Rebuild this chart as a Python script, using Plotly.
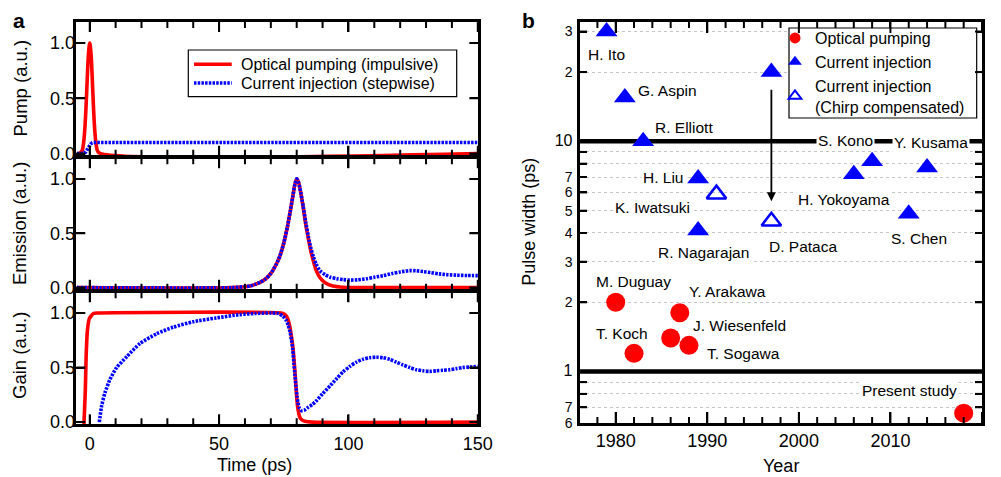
import math
import plotly.graph_objects as go

W, H = 1001, 477
FONT = "Liberation Sans, Arial, Helvetica, sans-serif"
RED = "#ff0000"
BLUE = "#0000ff"

# ---------------- Panel a data (time in ps, signals in a.u.) ----------------
pump_opt_t = [-5, -4, -3, -2.5, -2, -1.5, -1, -0.5, 0, 0.5, 1, 1.5, 2, 2.5, 3, 4, 150]
pump_opt_v = [0, 0.001, 0.024, 0.076, 0.19, 0.39, 0.66, 0.9, 1.0, 0.9, 0.66, 0.39, 0.19, 0.076, 0.024, 0.001, 0]

pump_cur_t = [-5, -2.5, -1.5, -0.9, -0.3, 0.3, 0.9, 1.4, 150]
pump_cur_v = [0, 0, 0.015, 0.04, 0.065, 0.085, 0.096, 0.1, 0.1]

emis_opt_t = [-5, 55, 62, 64, 66, 68, 70, 72, 73.5, 75, 76.5, 77.5, 78.5, 79.3, 80, 80.7, 81.2,
              82.5, 83.5, 84.5, 85.5, 86.5, 87.5, 89, 91, 94, 98, 101, 150]
emis_opt_v = [0, 0, 0.015, 0.03, 0.05, 0.08, 0.13, 0.21, 0.29, 0.41, 0.57, 0.70, 0.84, 0.95, 1.0, 0.97, 0.92,
              0.74, 0.58, 0.45, 0.33, 0.24, 0.16, 0.09, 0.045, 0.015, 0.003, 0, 0]

emis_cur_t = [-5, 55, 62, 64, 66, 68, 70, 72, 73.5, 75, 76.5, 77.5, 78.5, 79.3, 80, 80.7, 81.2,
              82.5, 83.5, 84.5, 85.5, 86.5, 87.5, 89, 91, 93, 95.5, 98, 100.5, 103.5, 107, 110,
              113.5, 117, 120, 123.7, 126, 129, 132, 135, 138.5, 142, 146, 150]
emis_cur_v = [0, 0, 0.015, 0.03, 0.05, 0.08, 0.13, 0.21, 0.29, 0.41, 0.57, 0.70, 0.84, 0.95, 1.0, 0.97, 0.92,
              0.75, 0.60, 0.47, 0.36, 0.28, 0.215, 0.155, 0.118, 0.095, 0.081, 0.073, 0.069, 0.071, 0.081, 0.095,
              0.11, 0.13, 0.144, 0.156, 0.155, 0.147, 0.137, 0.126, 0.118, 0.114, 0.111, 0.11]

gain_opt_t = [-2.3, -2.0, -1.7, -1.4, -0.9, -0.15, 1.4, 3, 74, 75.5, 76.5, 77.3, 78, 78.6, 79.2, 79.7,
              80.3, 81.2, 82, 83.1, 86, 150]
gain_opt_v = [-0.05, 0.12, 0.30, 0.60, 0.84, 0.95, 0.995, 1.0, 1.0, 0.985, 0.95, 0.88, 0.78, 0.67, 0.50, 0.33,
              0.15, 0.045, 0.02, 0.009, 0.0, 0.0]

gain_cur_t = [3.7, 4.6, 5.9, 7.8, 10.4, 14.3, 19.4, 25.9, 32.3, 40, 49, 58, 64, 70, 73, 74.7, 76, 76.7,
              77.5, 78, 78.5, 78.9, 79.3, 79.7, 80.1, 80.5, 81, 81.8, 83, 84.4, 86, 87.6, 90, 92.8, 95.5,
              97.9, 100.5, 103.1, 105.5, 108.2, 110.8, 113.4, 116, 118.5, 121, 123.7, 126.3, 128.8, 131.4,
              134, 136.5, 139.1, 141.7, 144.2, 147, 150]
gain_cur_v = [0, 0.15, 0.27, 0.39, 0.50, 0.60, 0.72, 0.81, 0.87, 0.92, 0.955, 0.985, 0.995, 1.0, 0.995, 0.97,
              0.93, 0.89, 0.82, 0.75, 0.66, 0.54, 0.44, 0.33, 0.24, 0.18, 0.13, 0.105, 0.11, 0.135, 0.16, 0.195,
              0.26, 0.33, 0.40, 0.46, 0.51, 0.55, 0.575, 0.59, 0.595, 0.59, 0.575, 0.55, 0.525, 0.50, 0.48,
              0.47, 0.465, 0.47, 0.475, 0.48, 0.49, 0.50, 0.505, 0.51]

legend_a_names = ["Optical pumping (impulsive)", "Current injection (stepwise)"]
time_range = [-5.2, 150.2]
time_major = [0, 50, 100, 150]
time_minor = [10, 20, 30, 40, 60, 70, 80, 90, 110, 120, 130, 140]
signal_ticks = [0, 0.5, 1.0]
signal_labels = ["0.0", "0.5", "1.0"]

# ---------------- Panel b data (year, pulse width in ps) ----------------
opt_year = [1980, 1982, 1986, 1987, 1988, 2018]
opt_width = [2.0, 1.2, 1.4, 1.8, 1.3, 0.66]
opt_names = ["M. Duguay", "T. Koch", "J. Wiesenfeld", "Y. Arakawa", "T. Sogawa", "Present study"]

cur_year = [1979, 1981, 1983, 1989, 1989, 1997, 2006, 2008, 2012, 2014]
cur_width = [30, 15.5, 10, 6.9, 4.1, 20, 7.2, 8.2, 4.85, 7.7]
cur_names = ["H. Ito", "G. Aspin", "R. Elliott", "H. Liu", "R. Nagarajan", "", "H. Yokoyama",
             "S. Kono", "S. Chen", "Y. Kusama"]

cc_year = [1991, 1997]
cc_width = [5.9, 4.5]
cc_names = ["K. Iwatsuki", "D. Pataca"]

# chirp compensation arrow (from uncompensated to compensated value)
arrow_year = 1997
arrow_from = 17
arrow_to = 5.5

year_range = [1976.1, 2020]
year_major = [1980, 1990, 2000, 2010, 2020]
year_minor = [1978, 1982, 1984, 1986, 1988, 1992, 1994, 1996, 1998, 2002, 2004, 2006, 2008,
              2012, 2014, 2016, 2018]
width_range = [0.598, 33]
y_tickvals = [0.6, 0.7, 0.8, 0.9, 1, 2, 3, 4, 5, 6, 7, 8, 9, 10, 20, 30]
y_ticktext = ["6", "7", "", "", "<span style='font-size:16px'>1</span>", "2", "3", "4", "5", "6", "7",
              "", "", "<span style='font-size:16px'>10</span>", "2", "3"]
decade_lines = [1, 10]

# label offsets in pixels (dx right, dy down) -- layout only
opt_off = [(18, -21), (-12, -20), (69, -12), (48, -21), (55, 8), (-54, -23)]
cur_off = [(0, 23), (43, -7), (41, -14), (-35, -1), (5, 22), (0, 0), (-10, 25), (-27, -21), (10, 25), (4, -25)]
cc_off = [(-64, 13), (32, 25)]


def px(x):
    return x / W


def py(y):
    return 1 - y / H


fig = go.Figure()

RED_W = 3.6
BLUE_DASH = "2.5px,1.2px"
solid = dict(color=RED, width=RED_W)
dotted = dict(color=BLUE, width=RED_W, dash=BLUE_DASH)

# Panel a traces
fig.add_trace(go.Scatter(x=pump_opt_t, y=pump_opt_v, mode="lines", line=solid, line_shape="spline",
                         showlegend=False, xaxis="x", yaxis="y"))
fig.add_trace(go.Scatter(x=pump_cur_t, y=pump_cur_v, mode="lines", line=dotted,
                         showlegend=False, xaxis="x", yaxis="y"))
fig.add_trace(go.Scatter(x=emis_opt_t, y=emis_opt_v, mode="lines", line=solid, line_shape="spline",
                         line_smoothing=0.6, showlegend=False, xaxis="x2", yaxis="y2"))
fig.add_trace(go.Scatter(x=emis_cur_t, y=emis_cur_v, mode="lines", line=dotted, line_shape="spline",
                         line_smoothing=0.6, showlegend=False, xaxis="x2", yaxis="y2"))
fig.add_trace(go.Scatter(x=gain_opt_t, y=gain_opt_v, mode="lines", line=solid, line_shape="spline",
                         line_smoothing=0.5, showlegend=False, xaxis="x3", yaxis="y3"))
fig.add_trace(go.Scatter(x=gain_cur_t, y=gain_cur_v, mode="lines", line=dotted, line_shape="spline",
                         line_smoothing=0.6, showlegend=False, xaxis="x3", yaxis="y3"))

# Panel b: decade separator lines (drawn above grid, below markers)
for v in decade_lines:
    fig.add_trace(go.Scatter(x=year_range, y=[v, v], mode="lines", line=dict(color="black", width=4.5),
                             showlegend=False, hoverinfo="skip", xaxis="x4", yaxis="y4"))

fig.add_trace(go.Scatter(x=opt_year, y=opt_width, mode="markers", showlegend=False,
                         marker=dict(symbol="circle", size=19, color=RED), xaxis="x4", yaxis="y4"))
fig.add_trace(go.Scatter(x=cur_year, y=cur_width, mode="markers", showlegend=False,
                         marker=dict(symbol="triangle-up", size=19, color=BLUE), xaxis="x4", yaxis="y4"))
fig.add_trace(go.Scatter(x=cc_year, y=cc_width, mode="markers", showlegend=False,
                         marker=dict(symbol="triangle-up-open", size=17, color=BLUE, line=dict(width=2.5)),
                         xaxis="x4", yaxis="y4"))
# legend-only entries for panel b
fig.add_trace(go.Scatter(x=[None], y=[None], mode="markers", name="Optical pumping",
                         marker=dict(symbol="circle", size=11, color=RED), xaxis="x4", yaxis="y4"))
fig.add_trace(go.Scatter(x=[None], y=[None], mode="markers", name="Current injection",
                         marker=dict(symbol="triangle-up", size=12, color=BLUE), xaxis="x4", yaxis="y4"))
fig.add_trace(go.Scatter(x=[None], y=[None], mode="markers", name="Current injection<br>(Chirp compensated)",
                         marker=dict(symbol="triangle-up-open", size=11, color=BLUE, line=dict(width=2)),
                         xaxis="x4", yaxis="y4"))

# ---------------- axes ----------------
LW = 2.5
xdom_a = [px(76.3), px(478.3)]
common_x = dict(range=time_range, domain=xdom_a, showline=True, linewidth=LW, linecolor="black",
                mirror="ticks", ticks="inside", tickvals=time_major, ticklen=10,
                tickwidth=2, tickcolor="black", showgrid=False, zeroline=False, automargin=False,
                tickfont=dict(size=18, color="black"), ticklabelstandoff=1)
common_y = dict(range=[-0.02, 1.19], showline=True, linewidth=LW, linecolor="black", mirror="ticks",
                ticks="inside", tickvals=signal_ticks, ticktext=signal_labels, ticklen=9,
                tickwidth=2, tickcolor="black", showgrid=False, zeroline=False, automargin=False,
                tickfont=dict(size=18, color="black"), ticklabelstandoff=-5)

# boundaries between stacked panels at 157 and 291 px; half line-width gaps so lines coincide
hb = LW / 2
panel_px = {  # subplot id: (top px, bottom px)
    "": (22, 157 - hb),
    "2": (157 + hb, 291 - hb),
    "3": (291 + hb, 424.3),
}
fig.update_layout(
    template="none",
    xaxis=dict(common_x, anchor="y", showticklabels=False),
    xaxis2=dict(common_x, anchor="y2", showticklabels=False),
    xaxis3=dict(common_x, anchor="y3", showticklabels=True),
    yaxis=dict(common_y, anchor="x", domain=[py(panel_px[""][1]), py(panel_px[""][0])]),
    yaxis2=dict(common_y, anchor="x2", domain=[py(panel_px["2"][1]), py(panel_px["2"][0])]),
    yaxis3=dict(common_y, anchor="x3", domain=[py(panel_px["3"][1]), py(panel_px["3"][0])]),
    xaxis4=dict(anchor="y4", domain=[px(580), px(982)], range=year_range, showline=True, linewidth=LW,
                linecolor="black", mirror="ticks", ticks="inside", tickvals=year_major,
                ticklen=11, tickwidth=2, tickcolor="black", showgrid=False, zeroline=False, automargin=False,
                tickfont=dict(size=18, color="black"), ticklabelstandoff=0),
    yaxis4=dict(anchor="x4", domain=[py(423), py(22)], type="log",
                range=[math.log10(width_range[0]), math.log10(width_range[1])], showline=True, linewidth=LW,
                linecolor="black", mirror="ticks", ticks="inside", tickvals=y_tickvals, ticktext=y_ticktext,
                ticklen=7, tickwidth=2, tickcolor="black", showgrid=True, gridcolor="#c4c4c4", gridwidth=1,
                griddash="dot", zeroline=False, automargin=False,
                tickfont=dict(size=14, color="black"), ticklabelstandoff=2),
)

# ---------------- legends ----------------
fig.update_layout(
    showlegend=True,
    legend=dict(x=px(775), y=py(21), xanchor="left", yanchor="top", bgcolor="rgba(0,0,0,0)",
                borderwidth=0, font=dict(size=16, color="black", family=FONT)),
)

shapes = [
    dict(type="rect", xref="paper", yref="paper", x0=px(188.3), x1=px(456.7), y0=py(96.7), y1=py(50),
         line=dict(color="black", width=1.2), fillcolor="white", layer="above"),
    dict(type="rect", xref="paper", yref="paper", x0=px(789), x1=px(976.7), y0=py(118), y1=py(28),
         line=dict(color="black", width=1.2), fillcolor="white", layer="above"),
    # panel a legend samples
    dict(type="line", xref="paper", yref="paper", x0=px(194), x1=px(231.7), y0=py(64.3), y1=py(64.3),
         line=dict(color=RED, width=RED_W), layer="above"),
    dict(type="line", xref="paper", yref="paper", x0=px(194), x1=px(231.7), y0=py(83), y1=py(83),
         line=dict(color=BLUE, width=RED_W, dash=BLUE_DASH), layer="above"),
]

# inward tick marks on all four sides (placed through the axes' own scales)
TICK = dict(color="black", width=2)


def xticks(sub, vals, length, h_px):
    f = length / h_px
    for v in vals:
        for y0, y1 in ((0, f), (1, 1 - f)):
            shapes.append(dict(type="line", xref="x" + sub, yref="y" + sub + " domain", x0=v, x1=v,
                               y0=y0, y1=y1, line=TICK, layer="above"))


def yticks(sub, vals, length, w_px):
    f = length / w_px
    for v in vals:
        for x0, x1 in ((0, f), (1, 1 - f)):
            shapes.append(dict(type="line", yref="y" + sub, xref="x" + sub + " domain", y0=v, y1=v,
                               x0=x0, x1=x1, line=TICK, layer="above"))


for sub, (top, bot) in panel_px.items():
    hpx = bot - top
    xticks(sub, time_major, 10, hpx)
    xticks(sub, time_minor, 6, hpx)
    yticks(sub, signal_ticks, 9, 402)
xticks("4", year_major, 11, 401)
xticks("4", year_minor, 6, 401)
yticks("4", y_tickvals[1:], 7, 402)

annotations = []
for name, yy in zip(legend_a_names, [64.3, 83]):
    annotations.append(dict(x=px(238.5), y=py(yy), xref="paper", yref="paper", text=name, showarrow=False,
                            xanchor="left", yanchor="middle", font=dict(size=16, color="black", family=FONT)))
# point labels
for names, years, widths, offs in [(opt_names, opt_year, opt_width, opt_off),
                                   (cur_names, cur_year, cur_width, cur_off),
                                   (cc_names, cc_year, cc_width, cc_off)]:
    for n, xv, yv, (dx, dy) in zip(names, years, widths, offs):
        if not n:
            continue
        annotations.append(dict(x=xv, y=math.log10(yv), xref="x4", yref="y4", text=n, showarrow=False,
                                xshift=dx, yshift=-dy, bgcolor="white", borderpad=1,
                                font=dict(size=15.5, color="black", family=FONT)))
# arrow
annotations.append(dict(x=arrow_year, y=math.log10(arrow_to), ax=arrow_year, ay=math.log10(arrow_from),
                        xref="x4", yref="y4", axref="x4", ayref="y4", text="", showarrow=True,
                        arrowhead=2, arrowsize=1, arrowwidth=1.8, arrowcolor="black"))


def title(text, x, y, angle=0, size=18):
    return dict(x=px(x), y=py(y), xref="paper", yref="paper", text=text, showarrow=False,
                textangle=angle, xanchor="center", yanchor="middle",
                font=dict(size=size, color="black", family=FONT))


annotations += [
    title("Time (ps)", 254, 465),
    title("Year", 781, 466),
    title("Pump (a.u.)", 19.5, 88, -90, 18.5),
    title("Emission (a.u.)", 19.5, 223.5, -90, 18.5),
    title("Gain (a.u.)", 19.5, 355.5, -90, 18.5),
    title("Pulse width (ps)", 529, 221.7, -90, 18),
    title("<b>a</b>", 19, 21, 0, 21),
    title("<b>b</b>", 528.3, 21, 0, 21),
]

fig.update_layout(
    width=W, height=H, margin=dict(l=0, r=0, t=0, b=0, pad=0),
    paper_bgcolor="white", plot_bgcolor="white",
    font=dict(family=FONT, color="black"),
    shapes=shapes, annotations=annotations,
)

fig.write_html("out.html")
